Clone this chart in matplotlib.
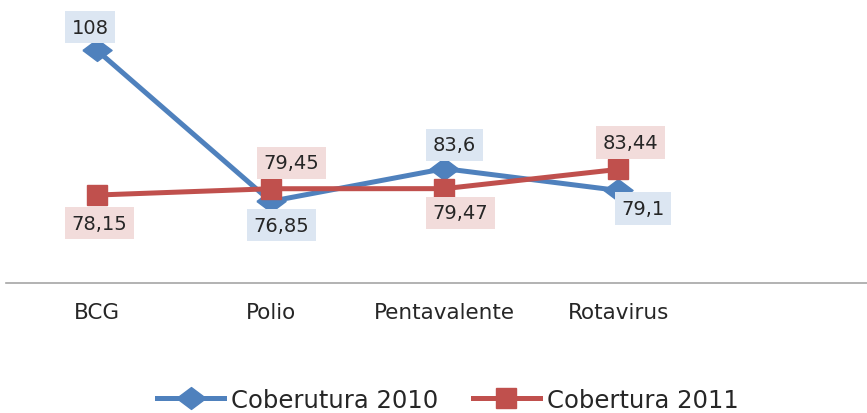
import matplotlib
matplotlib.use("Agg")
import matplotlib.pyplot as plt

categories = ["BCG", "Polio", "Pentavalente", "Rotavirus"]
cob_2010 = [108, 76.85, 83.6, 79.1]
cob_2011 = [78.15, 79.45, 79.47, 83.44]
series_names = ["Coberutura 2010", "Cobertura 2011"]

plt.rcParams['font.family'] = ['DejaVu Sans']

W, H = 867, 414
fig = plt.figure(figsize=(W / 100, H / 100), dpi=100)
ax = fig.add_axes([6 / W, (H - 284) / H, (W - 6) / W, 284 / H])

blue = "#4F81BD"
red = "#C0504D"
blue_bg = "#DCE6F2"
red_bg = "#F2DCDB"
txt = "#262626"

wide_diamond = [(-1, 0), (0, 0.75), (1, 0), (0, -0.75), (-1, 0)]

x = list(range(len(categories)))
l1, = ax.plot(x, cob_2010, color=blue, lw=3.6, marker=wide_diamond, ms=21,
              label=series_names[0], zorder=3)
l2, = ax.plot(x, cob_2011, color=red, lw=3.6, marker="s", ms=15,
              label=series_names[1], zorder=4)

ax.set_xlim(-0.524, 4.433)
ax.set_ylim(60, 118.6)

off_2010 = [(-7, 23), (11, -24), (10, 24), (25, -18)]
off_2011 = [(2, -28), (21, 26), (16, -24), (12, 27)]

def fmt(v):
    return f"{v:g}".replace(".", ",")

for xi, v, o in zip(x, cob_2010, off_2010):
    ax.annotate(fmt(v), (xi, v), xytext=o, textcoords="offset pixels",
                ha="center", va="center", fontsize=14, color=txt,
                bbox=dict(boxstyle="square,pad=0.34", fc=blue_bg, ec="none"), zorder=5)
for xi, v, o in zip(x, cob_2011, off_2011):
    ax.annotate(fmt(v), (xi, v), xytext=o, textcoords="offset pixels",
                ha="center", va="center", fontsize=14, color=txt,
                bbox=dict(boxstyle="square,pad=0.34", fc=red_bg, ec="none"), zorder=5)

for s in ["top", "right", "left"]:
    ax.spines[s].set_visible(False)
ax.spines["bottom"].set_color("#A6A6A6")
ax.spines["bottom"].set_linewidth(1.2)
ax.set_yticks([])
ax.set_xticks(x)
ax.set_xticklabels(categories, fontsize=15.5, color=txt)
ax.tick_params(axis="x", length=0, pad=13.5)

fig.legend(handles=[l1, l2], loc="center", bbox_to_anchor=(448 / W, 1 - 401 / H),
           ncol=2, frameon=False, fontsize=17.5, handlelength=2.75, handletextpad=0.3,
           columnspacing=1.4, labelcolor=txt, borderpad=0)

fig.savefig("out.png", dpi=100)
